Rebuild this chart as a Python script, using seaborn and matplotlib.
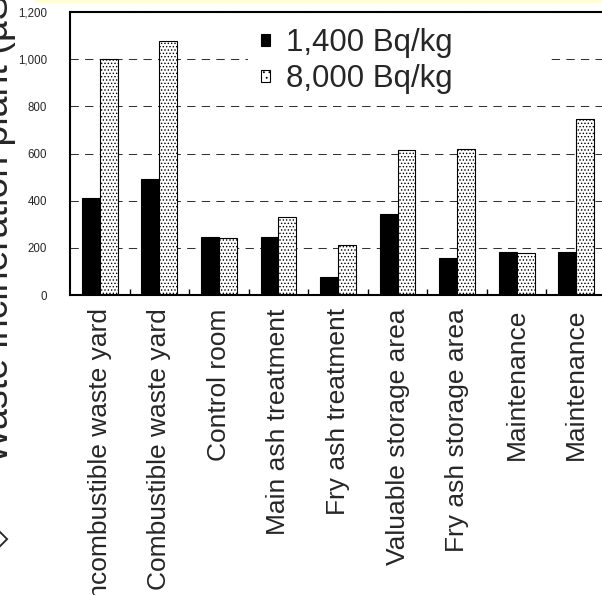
import numpy as np
import pandas as pd
import matplotlib
matplotlib.use("Agg")
import matplotlib.pyplot as plt
from matplotlib.patches import Patch, Rectangle
from matplotlib.ticker import FuncFormatter, FixedLocator
import seaborn as sns

# Work areas inside the incineration plant
areas = [
    "Incombustible waste yard",
    "Combustible waste yard",
    "Control room",
    "Main ash treatment",
    "Fry ash treatment",
    "Valuable storage area",
    "Fry ash storage area",
    "Maintenance",
    "Maintenance",
]
series_labels = ["1,400 Bq/kg", "8,000 Bq/kg"]
dose_1400 = [412, 490, 245, 248, 76, 345, 155, 183, 183]
dose_8000 = [1000, 1078, 242, 330, 213, 613, 620, 180, 746]
y_ticks = [0, 200, 400, 600, 800, 1000, 1200]

df = pd.DataFrame({
    "area": list(range(len(areas))) * 2,
    "series": [series_labels[0]] * len(areas) + [series_labels[1]] * len(areas),
    "dose": dose_1400 + dose_8000,
})

sns.set_style("white")
plt.rcParams["font.family"] = ["Liberation Sans", "DejaVu Sans"]
plt.rcParams["hatch.linewidth"] = 0.6

fig = plt.figure(figsize=(6.02, 5.95), dpi=100)
ax = fig.add_axes([70 / 602, 300 / 595, 536 / 602, 283 / 595])

sns.barplot(
    data=df, x="area", y="dose", hue="series", hue_order=series_labels,
    palette=["black", "white"], saturation=1, width=0.6, gap=0,
    edgecolor="black", linewidth=0.8, legend=False, ax=ax, errorbar=None,
)
for bar in ax.containers[1]:
    bar.set_hatch(".....")

ax.set_ylim(0, 1200)
ax.set_xlim(-0.5, len(areas) - 0.5)
ax.set_xlabel("")
ax.set_ylabel("")

# y axis
ax.yaxis.set_major_locator(FixedLocator(y_ticks))
ax.yaxis.set_major_formatter(FuncFormatter(lambda v, p: f"{int(v):,}"))
ax.tick_params(axis="y", length=0, pad=16.5, labelsize=8.3)
ax.yaxis.grid(True, linestyle=(0, (8, 6)), color="#333333", linewidth=0.75)
ax.set_axisbelow(True)

# x axis
ax.set_xticks(range(len(areas)))
ax.set_xticklabels(areas, rotation=90, fontsize=19, va="top", ha="center")
ax.tick_params(axis="x", which="major", length=0, pad=9.5)
ax.set_xticks(np.arange(0.5, len(areas) - 0.5, 1), minor=True)
ax.tick_params(axis="x", which="minor", direction="in", length=4.5,
               width=1, color="black", bottom=True)

for side in ["top", "left", "bottom", "right"]:
    ax.spines[side].set_visible(True)
    ax.spines[side].set_color("black")
    ax.spines[side].set_linewidth(1.5)

# legend area
ax.add_patch(Rectangle(((248 - 70) / 536, (295 - 100) / 283), (546 - 248) / 536,
                       80 / 283, transform=ax.transAxes, facecolor="white",
                       edgecolor="none", zorder=1.5))
handles = [
    Patch(facecolor="black", edgecolor="black", linewidth=0.8),
    Patch(facecolor="white", edgecolor="black", linewidth=0.8, hatch="..."),
]
leg = ax.legend(handles, series_labels, loc="upper left",
                bbox_to_anchor=((255 - 70) / 536, (295 - 22) / 283),
                fontsize=22.5, frameon=False, handlelength=0.28, handleheight=0.22,
                handletextpad=0.5, labelspacing=0.2, borderpad=0.2,
                borderaxespad=0)

# rotated axis caption, mostly outside the canvas
fig.text(8 / 602, (595 - 463) / 595, "Waste incineration plant (µSv/h)",
         rotation=90, rotation_mode="anchor", ha="left", va="baseline",
         fontsize=27)
fig.text(4 / 602, (595 - 552) / 595, "◇", rotation=90, rotation_mode="anchor",
         ha="left", va="baseline", fontsize=26,
         family=["DejaVu Sans", "Liberation Sans"])

fig.add_artist(Rectangle((35 / 602, 592 / 595), 1, 3 / 595,
                         transform=fig.transFigure, facecolor="#FFFFD2",
                         edgecolor="none"))

fig.savefig("out.png", dpi=100)
